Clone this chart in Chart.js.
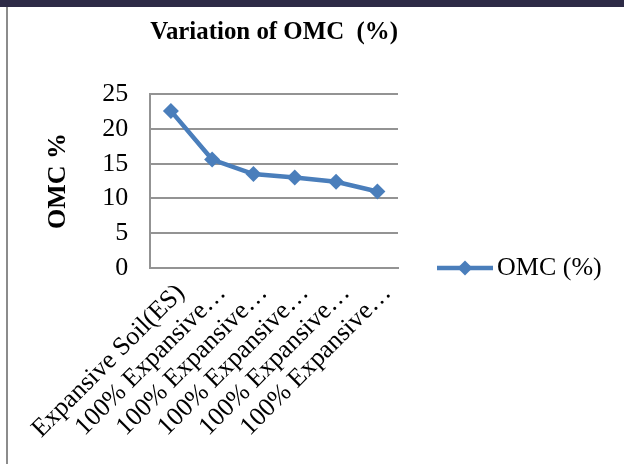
<!DOCTYPE html>
<html>
<head>
<meta charset="utf-8">
<style>
  html, body { margin: 0; padding: 0; background: #ffffff; }
  #wrap { position: relative; width: 624px; height: 464px; overflow: hidden; background: #ffffff; }
  #band { position: absolute; left: 0; top: 0; width: 624px; height: 7px; background: #2d2a46; }
  #edge { position: absolute; left: 6px; top: 7px; width: 2px; height: 457px; background: #8c8c8c; }
  canvas { position: absolute; left: 0; top: 0; }
</style>
<script src="https://cdn.jsdelivr.net/npm/chart.js@4/dist/chart.umd.min.js"></script>
</head>
<body>
<div id="wrap">
  <canvas id="chart" width="624" height="464"></canvas>
  <div id="band"></div>
  <div id="edge"></div>
</div>
<script>
// Soil samples along the x axis
const categories = [
  'Expansive Soil(ES)',
  '100% Expansive…',
  '100% Expansive…',
  '100% Expansive…',
  '100% Expansive…',
  '100% Expansive…'
];
// Optimum moisture content, %
const omcValues = [22.6, 15.6, 13.5, 13.0, 12.4, 11.0];
const yTicks = [0, 5, 10, 15, 20, 25];
const seriesName = 'OMC (%)';
const chartTitle = 'Variation of OMC  (%)';
const yAxisTitle = 'OMC %';

const SERIF = '"Liberation Serif", "Times New Roman", serif';
const BLUE = '#4a7ebb';
const GRID = '#939393';

// Legend entry drawn as a line segment with a diamond marker, to the right of the plot
const lineLegend = {
  id: 'lineLegend',
  afterDraw(chart) {
    const { ctx, chartArea } = chart;
    const ds = chart.data.datasets[0];
    const y = chartArea.bottom;
    const x0 = chartArea.right + 39;
    const x1 = x0 + 56;
    const cx = (x0 + x1) / 2;
    const r = 7.5;
    ctx.save();
    ctx.strokeStyle = ds.borderColor;
    ctx.lineWidth = ds.borderWidth;
    ctx.beginPath();
    ctx.moveTo(x0, y);
    ctx.lineTo(x1, y);
    ctx.stroke();
    ctx.fillStyle = ds.pointBackgroundColor;
    ctx.beginPath();
    ctx.moveTo(cx, y - r);
    ctx.lineTo(cx + r, y);
    ctx.lineTo(cx, y + r);
    ctx.lineTo(cx - r, y);
    ctx.closePath();
    ctx.fill();
    ctx.fillStyle = '#000000';
    ctx.font = '26px ' + SERIF;
    ctx.textAlign = 'left';
    ctx.textBaseline = 'middle';
    ctx.fillText(ds.label, x1 + 4, y);
    ctx.restore();
  }
};

new Chart(document.getElementById('chart'), {
  type: 'line',
  data: {
    labels: categories,
    datasets: [{
      label: seriesName,
      data: omcValues,
      borderColor: BLUE,
      backgroundColor: BLUE,
      borderWidth: 4.5,
      tension: 0,
      pointStyle: 'rectRot',
      pointRadius: 8,
      pointHoverRadius: 8,
      pointBackgroundColor: BLUE,
      pointBorderColor: BLUE,
      pointBorderWidth: 0
    }]
  },
  options: {
    responsive: false,
    animation: false,
    devicePixelRatio: 1,
    layout: { padding: { top: 0, left: 20, right: 226, bottom: 9.5 } },
    plugins: {
      legend: { display: false },
      tooltip: { enabled: false },
      title: {
        display: true,
        text: chartTitle,
        fullSize: false,
        color: '#000000',
        font: { family: SERIF, size: 26, weight: 'bold' },
        padding: { top: 17, bottom: 46 }
      }
    },
    scales: {
      x: {
        type: 'category',
        offset: true,
        grid: { display: true, drawOnChartArea: false, drawTicks: false },
        border: { display: true, color: GRID, width: 2 },
        ticks: {
          autoSkip: false,
          minRotation: 45,
          maxRotation: 45,
          padding: 10,
          labelOffset: 10,
          color: '#000000',
          font: { family: SERIF, size: 26 }
        },
        // the rotated labels may run into the left margin
        afterFit(scale) { scale.paddingLeft = 0; scale.paddingRight = 0; }
      },
      y: {
        min: yTicks[0],
        max: yTicks[yTicks.length - 1],
        grid: { color: GRID, lineWidth: 2, drawTicks: false },
        border: { display: true, color: GRID, width: 2 },
        ticks: {
          stepSize: yTicks[1] - yTicks[0],
          autoSkip: false,
          padding: 22,
          color: '#000000',
          font: { family: SERIF, size: 26 }
        },
        title: {
          display: true,
          text: yAxisTitle,
          color: '#000000',
          font: { family: SERIF, size: 26, weight: 'bold' },
          padding: { top: 23, bottom: 6 }
        }
      }
    }
  },
  plugins: [lineLegend]
});
</script>
</body>
</html>
